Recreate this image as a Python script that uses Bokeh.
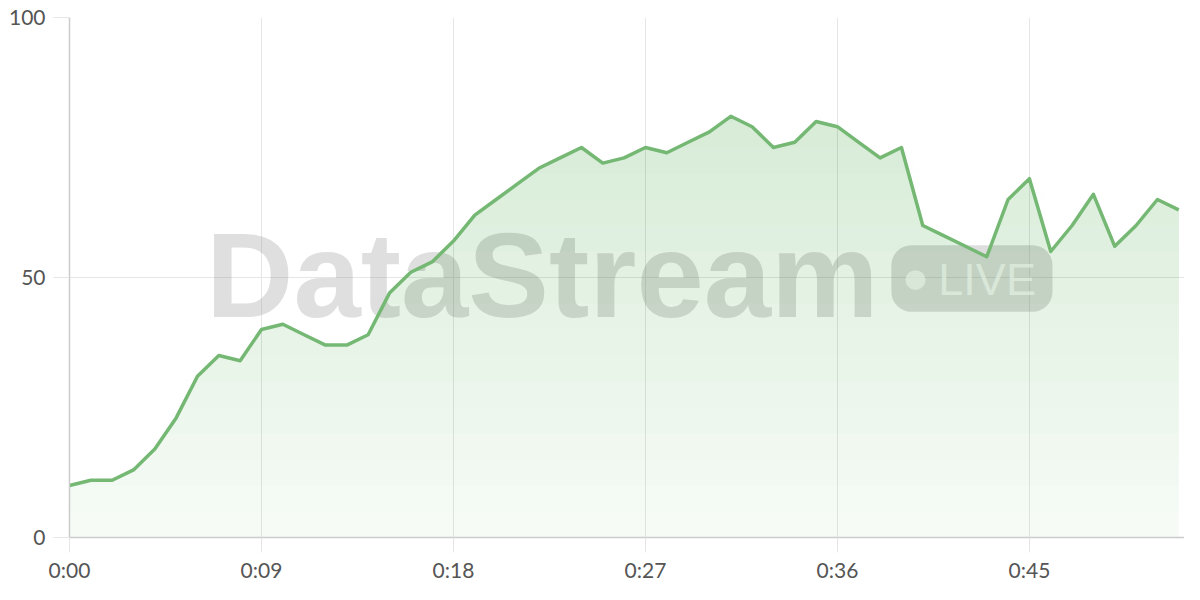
import numpy as np
from bokeh.plotting import figure
from bokeh.models import FixedTicker, Label, BoxAnnotation, Range1d
from bokeh.embed import file_html
from bokeh.resources import INLINE

# ---- data ----
seconds = list(range(53))
values = [10, 11, 11, 13, 17, 23, 31, 35, 34, 40,
          41, 39, 37, 37, 39, 47, 51, 53, 57, 62,
          65, 68, 71, 73, 75, 72, 73, 75, 74, 76,
          78, 81, 79, 75, 76, 80, 79, 76, 73, 75,
          60, 58, 56, 54, 65, 69, 55, 60, 66, 56,
          60, 65, 63]
x_ticks = [0, 9, 18, 27, 36, 45]
x_tick_labels = ["0:00", "0:09", "0:18", "0:27", "0:36", "0:45"]
y_ticks = [0, 50, 100]
y_tick_labels = ["0", "50", "100"]

LINE = "#74b874"
FILL = "#4caf50"
FONT = "Lato"

p = figure(width=1184, height=584, x_range=Range1d(0, 52.27), y_range=Range1d(0, 100),
           output_backend="svg", toolbar_location=None,
           min_border_left=69, min_border_right=0, min_border_top=17, min_border_bottom=46)
p.outline_line_color = None
p.background_fill_color = "white"

# ---- watermark ----
wm = Label(x=6.4, y=50.5, text="DataStream", text_font="Liberation Sans",
           text_font_style="bold", text_font_size="121px", text_color="#888888",
           text_alpha=0.27, text_baseline="alphabetic", level="underlay")
p.add_layout(wm)
badge = BoxAnnotation(left=38.53, right=46.08, bottom=43.4, top=56.2,
                      fill_color="#888888", fill_alpha=0.28, line_color=None,
                      border_radius=20, level="underlay")
p.add_layout(badge)
dot = BoxAnnotation(left=39.19, right=40.13, bottom=47.6, top=51.4,
                    fill_color="white", fill_alpha=0.65, line_color=None,
                    border_radius=10, level="underlay")
p.add_layout(dot)
live = Label(x=40.73, y=49.6, text="LIVE", text_font="Liberation Sans",
             text_font_size="45px", text_color="white", text_alpha=0.7,
             text_baseline="alphabetic", level="underlay")
p.add_layout(live)

# ---- gradient area (stacked translucent layers) ----
vals = np.array(values, dtype=float)
p.varea(x=seconds, y1=0, y2=vals, fill_color=FILL, fill_alpha=0.04)
for lv in np.linspace(0, 100, 21)[:-1]:
    p.varea(x=seconds, y1=lv, y2=np.maximum(vals, lv), fill_color=FILL, fill_alpha=0.0125)

# ---- line ----
p.line(seconds, values, line_color=LINE, line_width=3.5, line_join="round")

# ---- axes ----
p.xaxis.ticker = FixedTicker(ticks=x_ticks)
p.xaxis.major_label_overrides = dict(zip(x_ticks, x_tick_labels))
p.yaxis.ticker = FixedTicker(ticks=y_ticks)
p.yaxis.major_label_overrides = dict(zip(y_ticks, y_tick_labels))
for ax in (p.xaxis, p.yaxis):
    ax.axis_line_color = "#cccccc"
    ax.axis_line_width = 1.5
    ax.major_tick_line_color = "#e6e6e6"
    ax.major_tick_in = 0
    ax.minor_tick_line_color = None
    ax.major_label_text_font = FONT
    ax.major_label_text_font_size = "21px"
    ax.major_label_text_color = "#555555"
p.xaxis.major_tick_out = 15
p.xaxis.major_label_standoff = 4
p.yaxis.major_tick_out = 16
p.yaxis.major_label_standoff = 8
p.grid.grid_line_color = "#e6e6e6"
p.grid.grid_line_width = 1

open("out.html", "w").write(file_html(p, INLINE))
